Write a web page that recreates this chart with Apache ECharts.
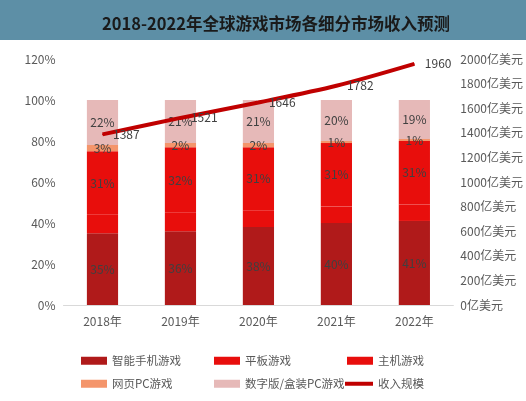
<!DOCTYPE html>
<html>
<head>
<meta charset="utf-8">
<script src="https://cdn.jsdelivr.net/npm/echarts@6/dist/echarts.min.js"></script>
<style>
html,body{margin:0;padding:0;background:#fff;}
#main{width:526px;height:401px;}
</style>
</head>
<body>
<div id="main"></div>
<script>
var categories = ['2018年', '2019年', '2020年', '2021年', '2022年'];
var smartphone = [35, 36, 38, 40, 41];
var tablet = [9, 9, 8, 8, 8];
var consoleGame = [31, 32, 31, 31, 31];
var webPC = [3, 2, 2, 1, 1];
var boxPC = [22, 21, 21, 20, 19];
var revenue = [1387, 1521, 1646, 1782, 1960];
var leftTicks = { min: 0, max: 120, interval: 20 };
var rightTicks = { min: 0, max: 2000, interval: 200 };

var FONT = '"Noto Sans CJK SC", "Noto Sans", sans-serif';
var chart = echarts.init(document.getElementById('main'));

function barSeries(name, data, color, showLabel) {
  return {
    name: name, type: 'bar', stack: 'share', data: data, barWidth: '40%',
    itemStyle: { color: color },
    label: {
      show: showLabel, position: 'inside', formatter: '{c}%',
      color: '#404040', fontSize: 12, fontFamily: FONT
    }
  };
}

function legendAt(name, left, top, extra) {
  var l = {
    data: [name], left: left, top: top, itemWidth: 26, itemHeight: 8, itemGap: 5,
    icon: 'rect', selectedMode: false, padding: 0,
    textStyle: { color: '#595959', fontSize: 11.5, fontFamily: FONT }
  };
  if (extra) { for (var k in extra) l[k] = extra[k]; }
  return l;
}

var option = {
  backgroundColor: '#fff',
  animation: false,
  graphic: [{
    type: 'rect', left: 0, top: 0, z: -1,
    shape: { width: 526, height: 40 },
    style: { fill: '#5d8fa6' }
  }],
  title: {
    text: '2018-2022年全球游戏市场各细分市场收入预测',
    left: 97, top: 10,
    textStyle: { color: '#1a1a1a', fontSize: 16.5, fontWeight: 'bold', fontFamily: FONT }
  },
  legend: [
    legendAt('智能手机游戏', 81, 355),
    legendAt('平板游戏', 214, 355),
    legendAt('主机游戏', 347, 355),
    legendAt('网页PC游戏', 81, 378),
    legendAt('数字版/盒装PC游戏', 214, 378),
    legendAt('收入规模', 345, 378, { itemWidth: 28, itemHeight: 4, itemStyle: { color: '#c00000' } })
  ],
  grid: { left: 63.5, right: 72, top: 59, bottom: 96, containLabel: false },
  xAxis: {
    type: 'category', data: categories,
    axisLine: { lineStyle: { color: '#d9d9d9', width: 1 } },
    axisTick: { show: false },
    axisLabel: { color: '#595959', fontSize: 12, fontFamily: FONT, margin: 10 }
  },
  yAxis: [{
    type: 'value', min: leftTicks.min, max: leftTicks.max, interval: leftTicks.interval,
    splitLine: { show: false }, axisLine: { show: false }, axisTick: { show: false },
    axisLabel: { formatter: '{value}%', color: '#595959', fontSize: 12, fontFamily: FONT, margin: 8 }
  }, {
    type: 'value', min: rightTicks.min, max: rightTicks.max, interval: rightTicks.interval,
    splitLine: { show: false }, axisLine: { show: false }, axisTick: { show: false },
    axisLabel: { formatter: function (v) { return v + '亿美元'; }, color: '#595959', fontSize: 12, fontFamily: FONT, margin: 7 }
  }],
  series: [
    barSeries('智能手机游戏', smartphone, '#b01a1a', true),
    barSeries('平板游戏', tablet, '#e80e0c', false),
    barSeries('主机游戏', consoleGame, '#e80e0c', true),
    barSeries('网页PC游戏', webPC, '#f4956b', true),
    barSeries('数字版/盒装PC游戏', boxPC, '#e6b9b8', true),
    {
      name: '收入规模', type: 'line', yAxisIndex: 1, data: revenue,
      smooth: 0.3, symbol: 'circle', symbolSize: 1, showSymbol: true,
      lineStyle: { color: '#c00000', width: 4 },
      itemStyle: { color: '#c00000' },
      label: { show: true, position: 'right', color: '#404040', fontSize: 12, fontFamily: FONT, distance: 10 },
      labelLayout: { hideOverlap: false },
      z: 5
    }
  ]
};
chart.setOption(option);
</script>
</body>
</html>
